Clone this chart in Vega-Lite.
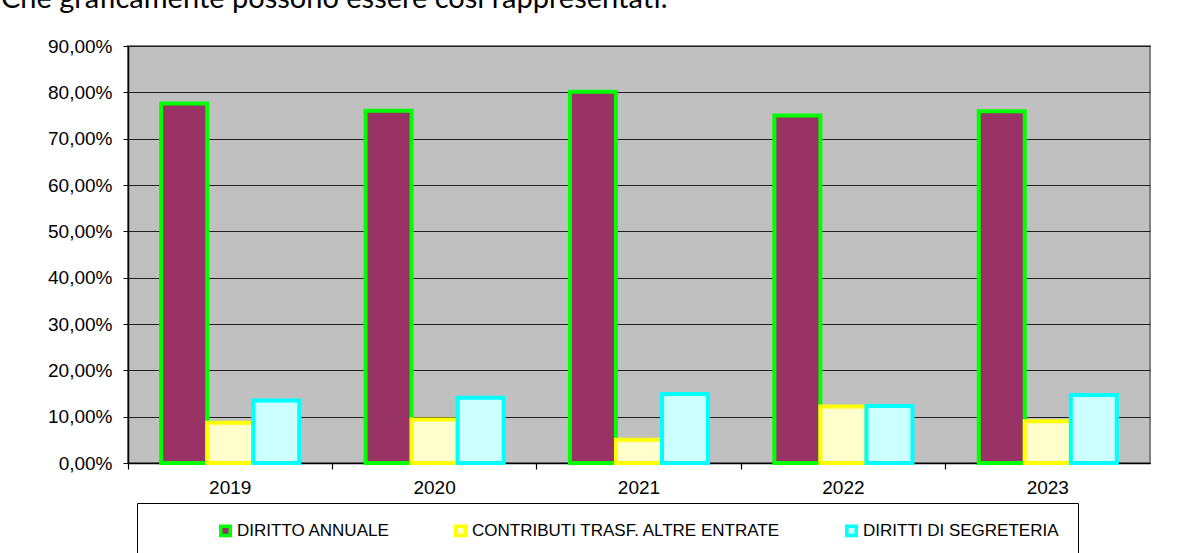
{
  "$schema": "https://vega.github.io/schema/vega-lite/v6.json",
  "width": 1022,
  "height": 417,
  "autosize": {"type": "none"},
  "padding": {"left": 128, "top": 46, "right": 50, "bottom": 90},
  "background": "white",
  "title": {
    "text": "Che graficamente possono essere così rappresentati:",
    "anchor": "start",
    "frame": "group",
    "baseline": "alphabetic",
    "offset": 28,
    "dy": 28,
    "dx": -127,
    "font": "Lato",
    "fontSize": 29,
    "fontWeight": "normal",
    "color": "#000000"
  },
  "data": {
    "values": [
      {"anno": "2019", "voce": "DIRITTO ANNUALE", "ord": 0, "perc": 77.6},
      {"anno": "2019", "voce": "CONTRIBUTI TRASF. ALTRE ENTRATE", "ord": 1, "perc": 8.7},
      {"anno": "2019", "voce": "DIRITTI DI SEGRETERIA", "ord": 2, "perc": 13.5},
      {"anno": "2020", "voce": "DIRITTO ANNUALE", "ord": 0, "perc": 76.0},
      {"anno": "2020", "voce": "CONTRIBUTI TRASF. ALTRE ENTRATE", "ord": 1, "perc": 9.4},
      {"anno": "2020", "voce": "DIRITTI DI SEGRETERIA", "ord": 2, "perc": 14.1},
      {"anno": "2021", "voce": "DIRITTO ANNUALE", "ord": 0, "perc": 80.1},
      {"anno": "2021", "voce": "CONTRIBUTI TRASF. ALTRE ENTRATE", "ord": 1, "perc": 5.0},
      {"anno": "2021", "voce": "DIRITTI DI SEGRETERIA", "ord": 2, "perc": 14.9},
      {"anno": "2022", "voce": "DIRITTO ANNUALE", "ord": 0, "perc": 75.0},
      {"anno": "2022", "voce": "CONTRIBUTI TRASF. ALTRE ENTRATE", "ord": 1, "perc": 12.2},
      {"anno": "2022", "voce": "DIRITTI DI SEGRETERIA", "ord": 2, "perc": 12.3},
      {"anno": "2023", "voce": "DIRITTO ANNUALE", "ord": 0, "perc": 75.9},
      {"anno": "2023", "voce": "CONTRIBUTI TRASF. ALTRE ENTRATE", "ord": 1, "perc": 9.0},
      {"anno": "2023", "voce": "DIRITTI DI SEGRETERIA", "ord": 2, "perc": 14.7}
    ]
  },
  "layer": [
    {
      "mark": {"type": "bar", "strokeWidth": 4, "strokeJoin": "miter"},
      "encoding": {
        "x": {
          "field": "anno",
          "type": "nominal",
          "scale": {"paddingInner": 0, "paddingOuter": 0},
          "axis": {
            "title": null,
            "labelAngle": 0,
            "labelFont": "Liberation Sans",
            "labelFontSize": 19,
            "labelColor": "#000000",
            "labelPadding": 15,
            "ticks": false,
            "domainColor": "#000000",
            "domainWidth": 1.5,
            "grid": false
          }
        },
        "xOffset": {
          "field": "voce",
          "type": "nominal",
          "sort": ["DIRITTO ANNUALE", "CONTRIBUTI TRASF. ALTRE ENTRATE", "DIRITTI DI SEGRETERIA"],
          "scale": {"paddingInner": 0, "paddingOuter": 0.72}
        },
        "y": {
          "field": "perc",
          "type": "quantitative",
          "scale": {"domain": [0, 90], "nice": false},
          "axis": {
            "title": null,
            "values": [0, 10, 20, 30, 40, 50, 60, 70, 80, 90],
            "labelExpr": "replace(format(datum.value, '.2f'), '.', ',') + '%'",
            "labelFont": "Liberation Sans",
            "labelFontSize": 19,
            "labelColor": "#000000",
            "labelPadding": 11,
            "tickSize": 5,
            "tickColor": "#000000",
            "domainColor": "#000000",
            "domainWidth": 1.5,
            "grid": true,
            "gridColor": "#202020",
            "gridWidth": 1.2
          }
        },
        "fill": {
          "field": "voce",
          "type": "nominal",
          "sort": ["DIRITTO ANNUALE", "CONTRIBUTI TRASF. ALTRE ENTRATE", "DIRITTI DI SEGRETERIA"],
          "scale": {
            "domain": ["DIRITTO ANNUALE", "CONTRIBUTI TRASF. ALTRE ENTRATE", "DIRITTI DI SEGRETERIA"],
            "range": ["#993366", "#FFFFCC", "#CCFFFF"]
          },
          "legend": {
            "title": "\u00a0",
            "titleOrient": "left",
            "titlePadding": 61,
            "orient": "none",
            "legendX": 9,
            "legendY": 457,
            "direction": "horizontal",
            "columns": 3,
            "columnPadding": 58,
            "padding": 19,
            "strokeColor": "#000000",
            "symbolType": "square",
            "symbolSize": 90,
            "symbolStrokeWidth": 3.5,
            "labelFont": "Liberation Sans",
            "labelFontSize": 17,
            "labelColor": "#000000",
            "labelOffset": 3,
            "labelLimit": 400
          }
        },
        "stroke": {
          "field": "voce",
          "type": "nominal",
          "sort": ["DIRITTO ANNUALE", "CONTRIBUTI TRASF. ALTRE ENTRATE", "DIRITTI DI SEGRETERIA"],
          "scale": {
            "domain": ["DIRITTO ANNUALE", "CONTRIBUTI TRASF. ALTRE ENTRATE", "DIRITTI DI SEGRETERIA"],
            "range": ["#00FF00", "#FFFF00", "#00FFFF"]
          }
        },
        "order": {"field": "ord"}
      }
    },
    {
      "mark": {"type": "rule", "opacity": 0},
      "encoding": {
        "x": {
          "field": "anno",
          "type": "nominal",
          "axis": {
            "orient": "bottom",
            "title": null,
            "labels": false,
            "domain": false,
            "grid": false,
            "ticks": true,
            "bandPosition": 0,
            "tickSize": 6,
            "tickColor": "#000000",
            "tickWidth": 1.2
          }
        }
      }
    }
  ],
  "resolve": {"axis": {"x": "independent"}},
  "config": {
    "view": {"fill": "#C0C0C0", "stroke": "#808080", "strokeWidth": 2},
    "font": "Liberation Sans"
  }
}
